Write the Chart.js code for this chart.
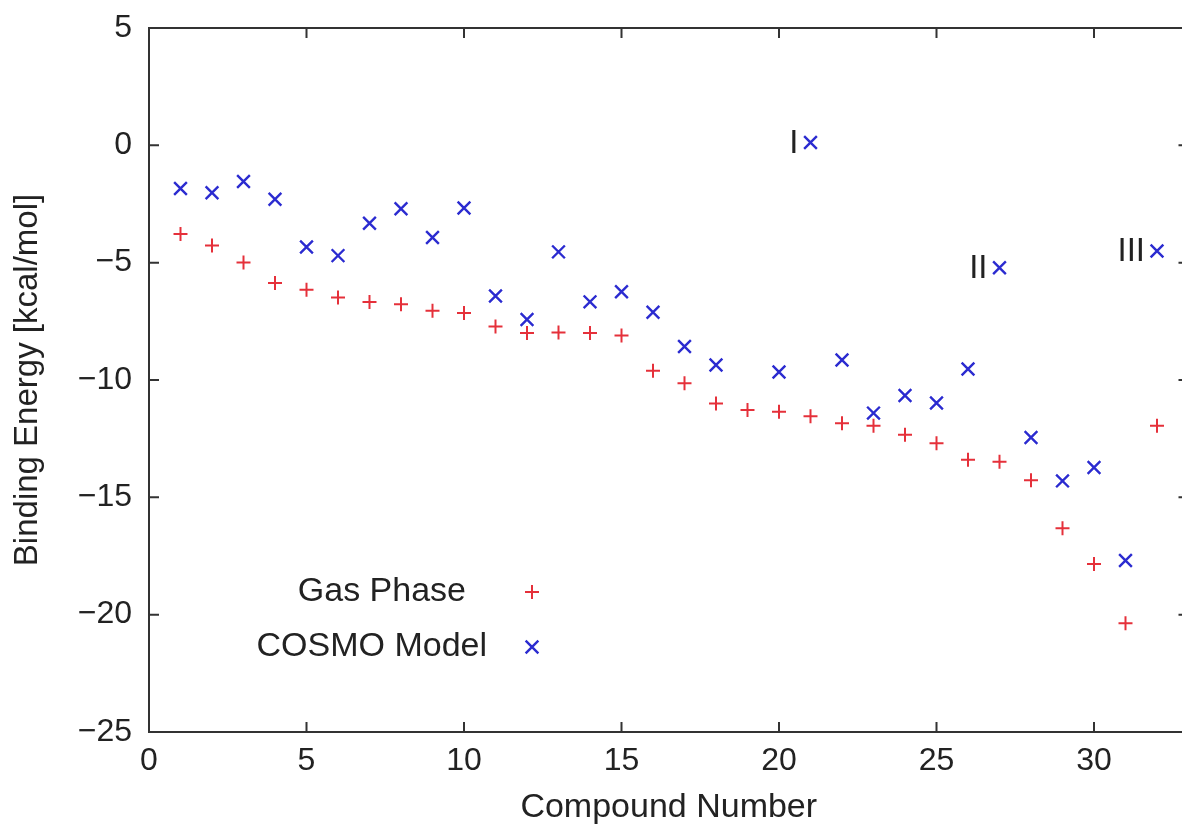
<!DOCTYPE html>
<html>
<head>
<meta charset="utf-8">
<script src="https://cdn.jsdelivr.net/npm/chart.js@4.4.1/dist/chart.umd.min.js"></script>
<style>
html,body{margin:0;padding:0;background:#fff;overflow:hidden;}
canvas{display:block;}
</style>
</head>
<body>
<canvas id="c" width="1200" height="834"></canvas>
<script>
// ---- data ----
const compounds = [1,2,3,4,5,6,7,8,9,10,11,12,13,14,15,16,17,18,19,20,21,22,23,24,25,26,27,28,29,30,31,32];
const gasPhase = [-3.78,-4.27,-4.99,-5.87,-6.15,-6.48,-6.68,-6.77,-7.05,-7.15,-7.72,-8.0,-7.98,-8.0,-8.1,-9.61,-10.14,-11.0,-11.28,-11.35,-11.54,-11.84,-11.95,-12.33,-12.7,-13.4,-13.48,-14.27,-16.32,-17.84,-20.37,-11.95];
const cosmoModel = [-1.84,-2.02,-1.54,-2.3,-4.33,-4.7,-3.32,-2.7,-3.93,-2.67,-6.42,-7.42,-4.54,-6.67,-6.24,-7.11,-8.57,-9.36,null,-9.66,0.12,-9.15,-11.41,-10.66,-10.98,-9.53,-5.22,-12.45,-14.3,-13.73,-17.69,-4.5];
const xTickValues = [0,5,10,15,20,25,30];
const yTickValues = [5,0,-5,-10,-15,-20,-25];
const annotCompounds = [21,27,32];
const annotLabels = ['I','II','III'];
const seriesNames = ['Gas Phase','COSMO Model'];

const FONT = '"Liberation Sans", Arial, Helvetica, sans-serif';
const TXT = '#222222';
const RED = '#e5303a';
const BLUE = '#2b2bd0';

function toPts(vals){
  const out=[];
  compounds.forEach((c,i)=>{ if(vals[i]!==null) out.push({x:c,y:vals[i]}); });
  return out;
}

const framePlugin = {
  id:'frame',
  afterDatasetsDraw(chart){
    const {ctx, chartArea:a, scales:{x,y}} = chart;
    ctx.save();
    ctx.strokeStyle='#333';
    ctx.lineWidth=2;
    ctx.strokeRect(a.left,a.top,a.right-a.left,a.bottom-a.top);
    const L=10;
    ctx.beginPath();
    xTickValues.forEach(v=>{
      const px=x.getPixelForValue(v);
      ctx.moveTo(px,a.bottom); ctx.lineTo(px,a.bottom-L);
      ctx.moveTo(px,a.top); ctx.lineTo(px,a.top+L);
    });
    yTickValues.forEach(v=>{
      const py=y.getPixelForValue(v);
      ctx.moveTo(a.left,py); ctx.lineTo(a.left+L,py);
      ctx.moveTo(a.right,py); ctx.lineTo(a.right-L,py);
    });
    ctx.stroke();

    // annotations I, II, III
    ctx.fillStyle=TXT;
    ctx.font='33px '+FONT;
    ctx.textAlign='right';
    ctx.textBaseline='middle';
    annotCompounds.forEach((c,i)=>{
      const idx=compounds.indexOf(c);
      const px=x.getPixelForValue(c);
      const py=y.getPixelForValue(cosmoModel[idx]);
      ctx.fillText(annotLabels[i], px-12, py+1);
    });

    // legend (gnuplot-style, inside the plot)
    const legendRight=[466,487];
    ctx.font='34px '+FONT;
    chart.data.datasets.forEach((ds,i)=>{
      const ty = 592 + i*55;
      ctx.fillStyle=TXT;
      ctx.fillText(ds.label, legendRight[i], ty);
      const mx=532;
      ctx.strokeStyle=ds.borderColor;
      ctx.lineWidth=ds.borderWidth;
      ctx.beginPath();
      if(ds.pointStyle==='cross'){
        const r=ds.pointRadius;
        ctx.moveTo(mx-r,ty); ctx.lineTo(mx+r,ty);
        ctx.moveTo(mx,ty-r); ctx.lineTo(mx,ty+r);
      } else {
        const r=ds.pointRadius*Math.SQRT1_2;
        ctx.moveTo(mx-r,ty-r); ctx.lineTo(mx+r,ty+r);
        ctx.moveTo(mx-r,ty+r); ctx.lineTo(mx+r,ty-r);
      }
      ctx.stroke();
    });
    ctx.restore();
  }
};

new Chart(document.getElementById('c'), {
  type:'scatter',
  data:{
    datasets:[
      {label:seriesNames[0], data:toPts(gasPhase), pointStyle:'cross', pointRadius:7, borderWidth:2, borderColor:RED, backgroundColor:RED, showLine:false},
      {label:seriesNames[1], data:toPts(cosmoModel), pointStyle:'crossRot', pointRadius:9, borderWidth:2.4, borderColor:BLUE, backgroundColor:BLUE, showLine:false}
    ]
  },
  options:{
    responsive:false,
    animation:false,
    devicePixelRatio:1,
    layout:{padding:{top:28,right:11.5,left:0,bottom:0}},
    plugins:{legend:{display:false}, tooltip:{enabled:false}},
    scales:{
      x:{
        type:'linear', min:0, max:33,
        afterBuildTicks(s){ s.ticks = xTickValues.map(v=>({value:v})); },
        afterFit(s){ s.height = 102; s.paddingLeft = 0; s.paddingRight = 0; },
        grid:{drawOnChartArea:false, drawTicks:false},
        border:{display:false},
        ticks:{color:TXT, font:{family:FONT,size:32}, padding:10, maxRotation:0, autoSkip:false},
        title:{display:true, text:'Compound Number', color:TXT, font:{family:FONT,size:34}, padding:{top:0,bottom:6}}
      },
      y:{
        type:'linear', min:-25, max:5,
        afterBuildTicks(s){ s.ticks = yTickValues.map(v=>({value:v})); },
        afterFit(s){ s.width = 149; s.paddingTop = 0; s.paddingBottom = 0; },
        grid:{drawOnChartArea:false, drawTicks:false},
        border:{display:false},
        ticks:{color:TXT, font:{family:FONT,size:32}, padding:17, autoSkip:false,
          callback:(v)=> v<0 ? '\u2212'+Math.abs(v) : String(v)},
        title:{display:true, text:'Binding Energy [kcal/mol]', color:TXT, font:{family:FONT,size:33}, padding:{top:8,bottom:0}}
      }
    }
  },
  plugins:[framePlugin]
});
</script>
</body>
</html>
